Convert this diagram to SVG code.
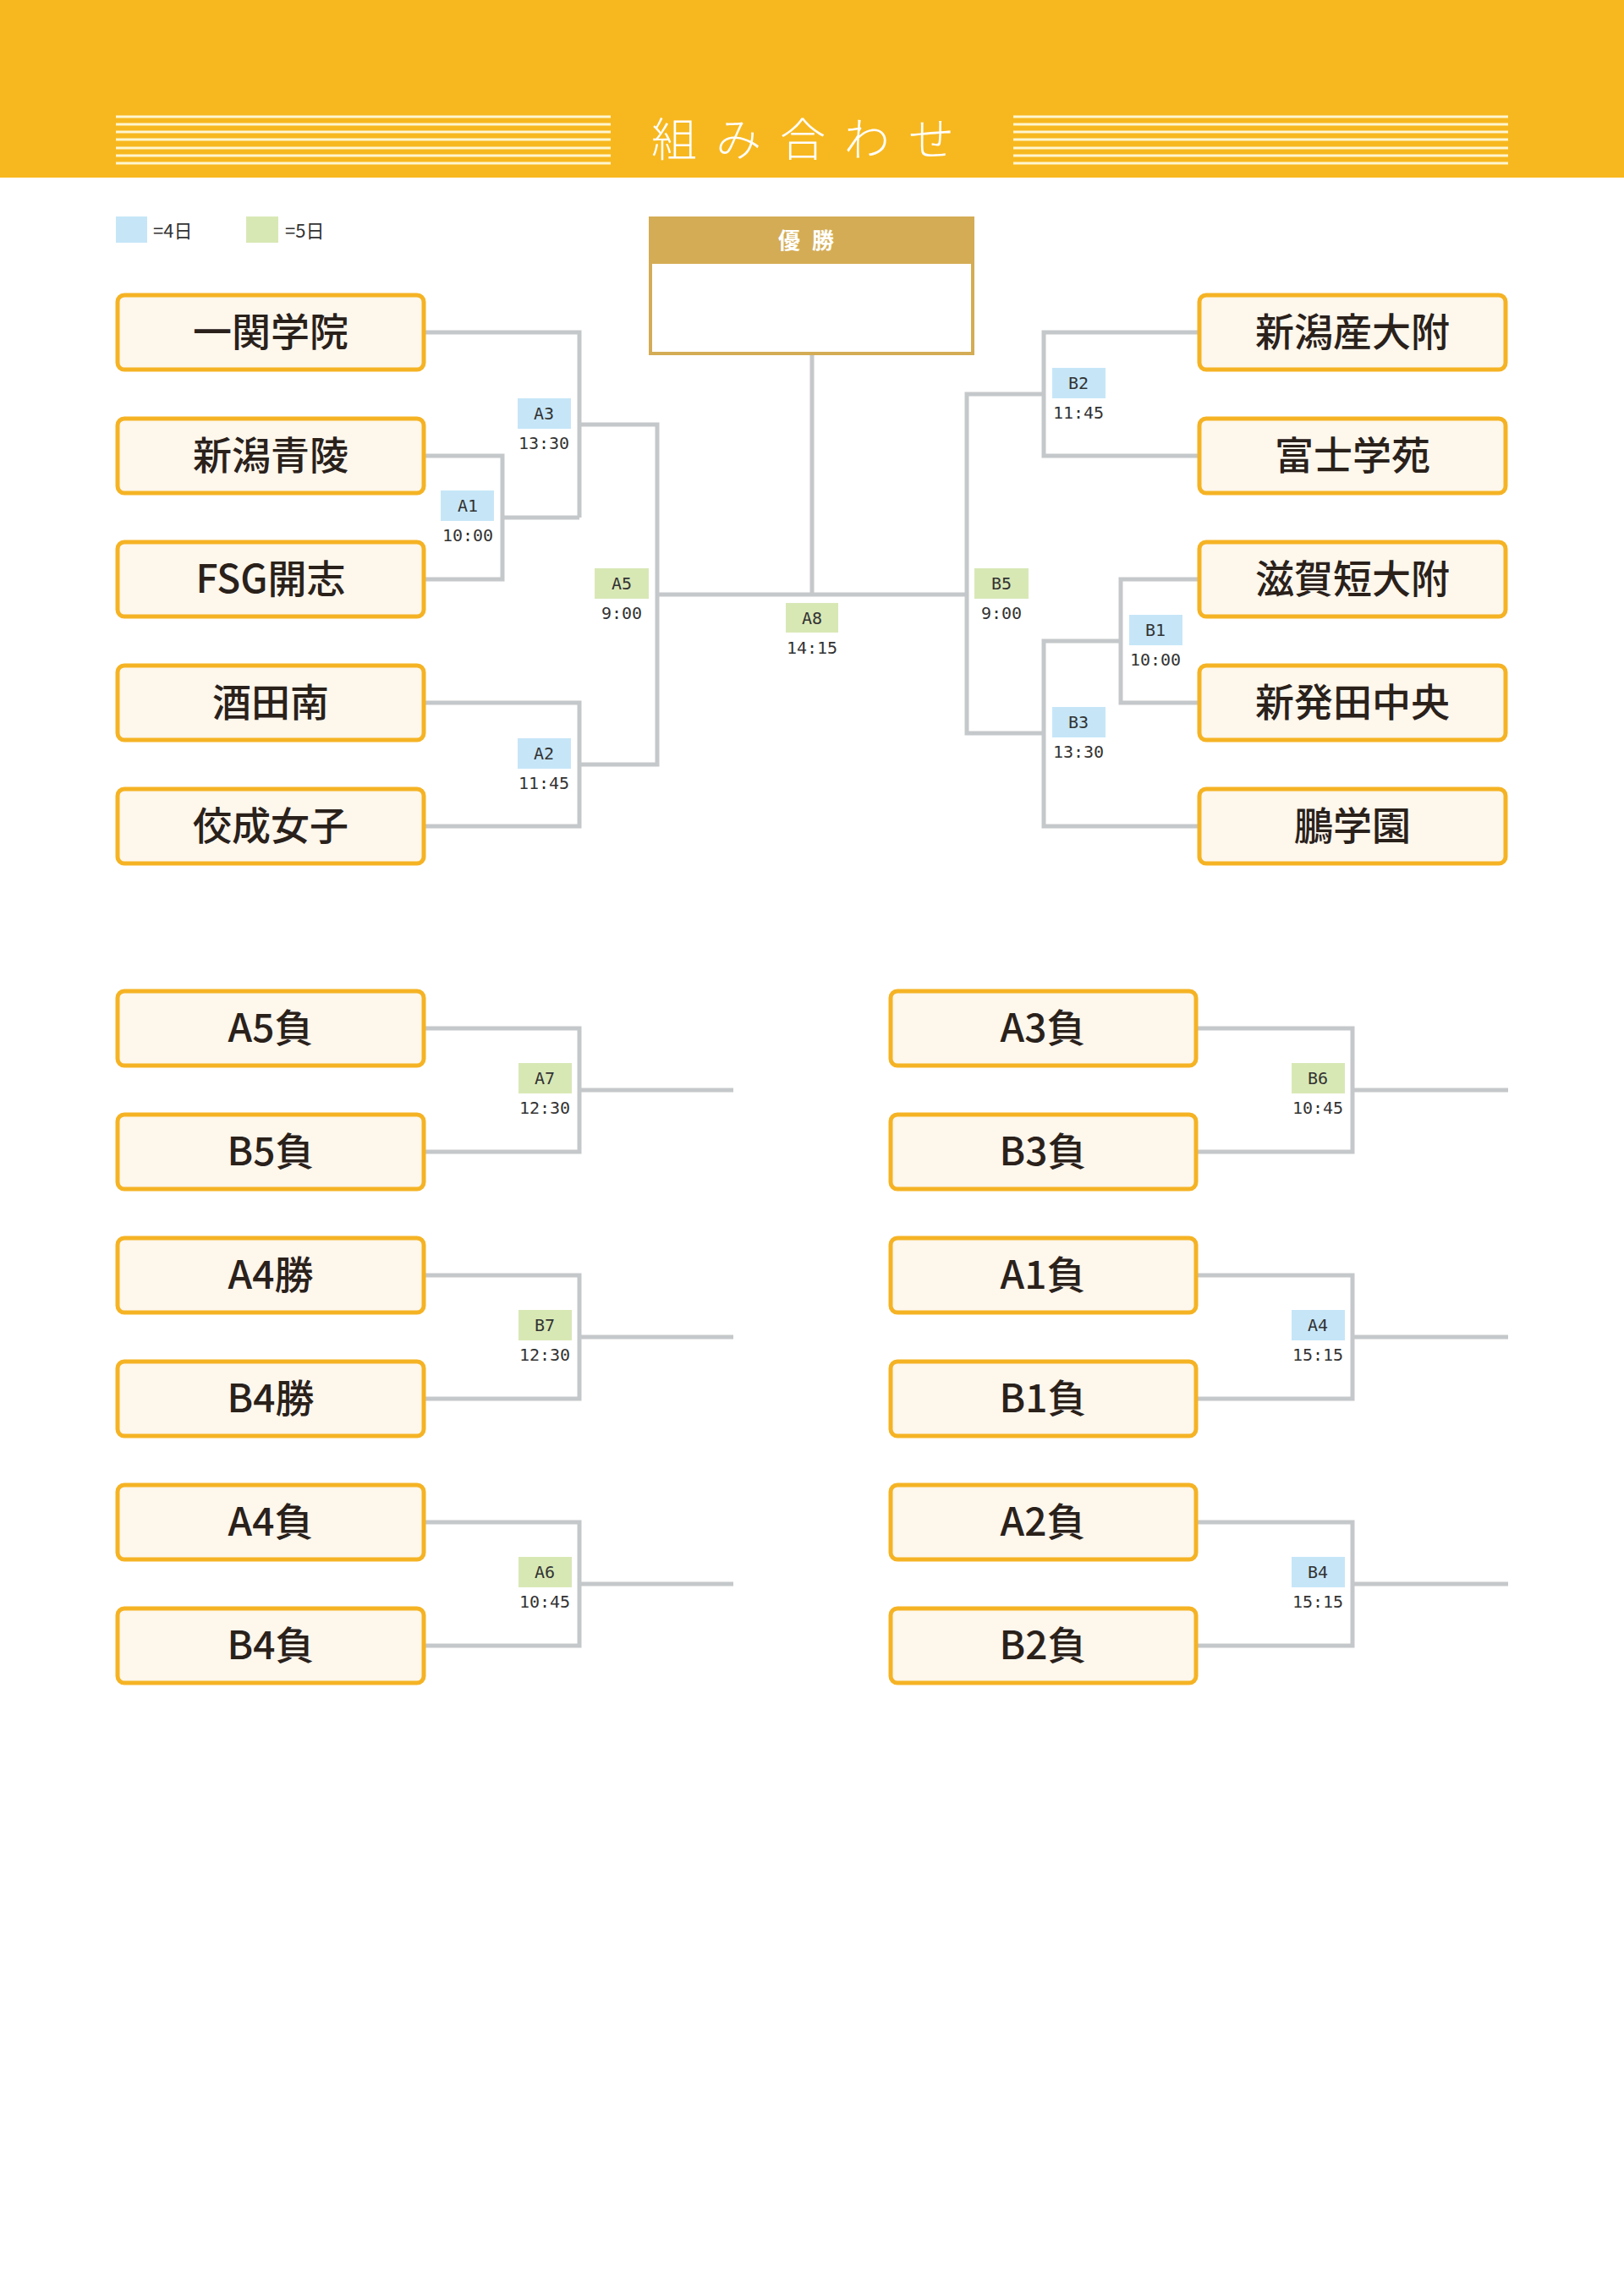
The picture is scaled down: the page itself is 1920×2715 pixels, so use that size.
<svg xmlns="http://www.w3.org/2000/svg" width="1920" height="2715" viewBox="0 0 1920 2715">
<style>
.team{fill:#FDF7EC;stroke:#F5B324;stroke-width:5}
.tt{font-family:"Noto Sans CJK JP","Noto Sans",sans-serif;font-size:46px;font-weight:500;fill:#2a211b;text-anchor:middle}
.ln{fill:none;stroke:#C5C8CA;stroke-width:5}
.bl{fill:#C6E6F8}.gr{fill:#D8E8B5}
.lb{font-family:"DejaVu Sans Mono","Liberation Mono",monospace;font-size:20px;fill:#333;text-anchor:middle}
.tm{font-family:"DejaVu Sans Mono","Liberation Mono",monospace;font-size:20px;fill:#333;text-anchor:middle}
.hl{stroke:#FFF6D0;stroke-width:3}
</style>
<rect width="1920" height="2715" fill="#fff"/>
<rect width="1920" height="210" fill="#F7B81F"/>
<g id="title">
<g class="hl">
<line x1="137" y1="138" x2="722" y2="138"/><line x1="137" y1="147" x2="722" y2="147"/><line x1="137" y1="156" x2="722" y2="156"/><line x1="137" y1="165" x2="722" y2="165"/><line x1="137" y1="175" x2="722" y2="175"/><line x1="137" y1="184" x2="722" y2="184"/><line x1="137" y1="193" x2="722" y2="193"/>
<line x1="1198" y1="138" x2="1783" y2="138"/><line x1="1198" y1="147" x2="1783" y2="147"/><line x1="1198" y1="156" x2="1783" y2="156"/><line x1="1198" y1="165" x2="1783" y2="165"/><line x1="1198" y1="175" x2="1783" y2="175"/><line x1="1198" y1="184" x2="1783" y2="184"/><line x1="1198" y1="193" x2="1783" y2="193"/>
</g>
<text x="960" y="185" font-family="Noto Sans CJK JP,sans-serif" font-size="54" font-weight="300" fill="#fff" text-anchor="middle" letter-spacing="22">組み合わせ</text>
</g>
<g id="legend">
<rect x="137" y="256" width="37" height="31" class="bl"/>
<text x="181" y="281" font-family="Noto Sans CJK JP,sans-serif" font-size="22" fill="#333">=4日</text>
<rect x="291" y="256" width="38" height="31" class="gr"/>
<text x="337" y="281" font-family="Noto Sans CJK JP,sans-serif" font-size="22" fill="#333">=5日</text>
</g>
<g id="champion">
<rect x="769" y="258" width="381" height="160" fill="#fff" stroke="#D4AC55" stroke-width="4"/>
<rect x="767" y="256" width="385" height="56" fill="#D4AC55"/>
<text x="960" y="294" font-family="Noto Sans CJK JP,sans-serif" font-size="26" font-weight="700" fill="#fff" text-anchor="middle" letter-spacing="14">優勝</text>
</g>
<g id="connectors">
<path class="ln" d="M501 393H685V612M501 539H594V685H501M594 612H685M501 831H685V977H501M685 904H777V502H685M777 703H1143"/>
<path class="ln" d="M960 420V703"/>
<path class="ln" d="M1418 393H1234V539H1418M1234 466H1143V867H1234M1418 685H1325V831H1418M1325 758H1234V977H1418"/>
<path class="ln" d="M501 1216H685V1362H501M685 1289H867M501 1508H685V1654H501M685 1581H867M501 1800H685V1946H501M685 1873H867"/>
<path class="ln" d="M1414 1216H1599V1362H1414M1599 1289H1783M1414 1508H1599V1654H1414M1599 1581H1783M1414 1800H1599V1946H1414M1599 1873H1783"/>
</g>
<g id="labels">
<rect x="521" y="580" width="63" height="36" class="bl"/><text x="553" y="605" class="lb">A1</text><text x="553" y="640" class="tm">10:00</text>
<rect x="612" y="471" width="63" height="36" class="bl"/><text x="643" y="496" class="lb">A3</text><text x="643" y="531" class="tm">13:30</text>
<rect x="612" y="873" width="63" height="36" class="bl"/><text x="643" y="898" class="lb">A2</text><text x="643" y="933" class="tm">11:45</text>
<rect x="703" y="672" width="64" height="36" class="gr"/><text x="735" y="697" class="lb">A5</text><text x="735" y="732" class="tm">9:00</text>
<rect x="929" y="713" width="62" height="35" class="gr"/><text x="960" y="738" class="lb">A8</text><text x="960" y="773" class="tm">14:15</text>
<rect x="1244" y="435" width="63" height="36" class="bl"/><text x="1275" y="460" class="lb">B2</text><text x="1275" y="495" class="tm">11:45</text>
<rect x="1152" y="672" width="64" height="36" class="gr"/><text x="1184" y="697" class="lb">B5</text><text x="1184" y="732" class="tm">9:00</text>
<rect x="1335" y="727" width="63" height="36" class="bl"/><text x="1366" y="752" class="lb">B1</text><text x="1366" y="787" class="tm">10:00</text>
<rect x="1244" y="836" width="63" height="36" class="bl"/><text x="1275" y="861" class="lb">B3</text><text x="1275" y="896" class="tm">13:30</text>
<rect x="613" y="1257" width="63" height="36" class="gr"/><text x="644" y="1282" class="lb">A7</text><text x="644" y="1317" class="tm">12:30</text>
<rect x="613" y="1549" width="63" height="36" class="gr"/><text x="644" y="1574" class="lb">B7</text><text x="644" y="1609" class="tm">12:30</text>
<rect x="613" y="1841" width="63" height="36" class="gr"/><text x="644" y="1866" class="lb">A6</text><text x="644" y="1901" class="tm">10:45</text>
<rect x="1527" y="1257" width="63" height="36" class="gr"/><text x="1558" y="1282" class="lb">B6</text><text x="1558" y="1317" class="tm">10:45</text>
<rect x="1527" y="1549" width="63" height="36" class="bl"/><text x="1558" y="1574" class="lb">A4</text><text x="1558" y="1609" class="tm">15:15</text>
<rect x="1527" y="1841" width="63" height="36" class="bl"/><text x="1558" y="1866" class="lb">B4</text><text x="1558" y="1901" class="tm">15:15</text>
</g>
<g id="t1"><rect class="team" x="139" y="349" width="362" height="88" rx="8"/><text class="tt" x="320" y="409">一関学院</text></g>
<g id="t2"><rect class="team" x="139" y="495" width="362" height="88" rx="8"/><text class="tt" x="320" y="555">新潟青陵</text></g>
<g id="t3"><rect class="team" x="139" y="641" width="362" height="88" rx="8"/><text class="tt" x="320" y="701">FSG開志</text></g>
<g id="t4"><rect class="team" x="139" y="787" width="362" height="88" rx="8"/><text class="tt" x="320" y="847">酒田南</text></g>
<g id="t5"><rect class="team" x="139" y="933" width="362" height="88" rx="8"/><text class="tt" x="320" y="993">佼成女子</text></g>
<g id="t6"><rect class="team" x="1418" y="349" width="362" height="88" rx="8"/><text class="tt" x="1599" y="409">新潟産大附</text></g>
<g id="t7"><rect class="team" x="1418" y="495" width="362" height="88" rx="8"/><text class="tt" x="1599" y="555">富士学苑</text></g>
<g id="t8"><rect class="team" x="1418" y="641" width="362" height="88" rx="8"/><text class="tt" x="1599" y="701">滋賀短大附</text></g>
<g id="t9"><rect class="team" x="1418" y="787" width="362" height="88" rx="8"/><text class="tt" x="1599" y="847">新発田中央</text></g>
<g id="t10"><rect class="team" x="1418" y="933" width="362" height="88" rx="8"/><text class="tt" x="1599" y="993">鵬学園</text></g>
<g id="c1"><rect class="team" x="139" y="1172" width="362" height="88" rx="8"/><text class="tt" x="320" y="1232">A5負</text></g>
<g id="c2"><rect class="team" x="139" y="1318" width="362" height="88" rx="8"/><text class="tt" x="320" y="1378">B5負</text></g>
<g id="c3"><rect class="team" x="139" y="1464" width="362" height="88" rx="8"/><text class="tt" x="320" y="1524">A4勝</text></g>
<g id="c4"><rect class="team" x="139" y="1610" width="362" height="88" rx="8"/><text class="tt" x="320" y="1670">B4勝</text></g>
<g id="c5"><rect class="team" x="139" y="1756" width="362" height="88" rx="8"/><text class="tt" x="320" y="1816">A4負</text></g>
<g id="c6"><rect class="team" x="139" y="1902" width="362" height="88" rx="8"/><text class="tt" x="320" y="1962">B4負</text></g>
<g id="d1"><rect class="team" x="1053" y="1172" width="361" height="88" rx="8"/><text class="tt" x="1233" y="1232">A3負</text></g>
<g id="d2"><rect class="team" x="1053" y="1318" width="361" height="88" rx="8"/><text class="tt" x="1233" y="1378">B3負</text></g>
<g id="d3"><rect class="team" x="1053" y="1464" width="361" height="88" rx="8"/><text class="tt" x="1233" y="1524">A1負</text></g>
<g id="d4"><rect class="team" x="1053" y="1610" width="361" height="88" rx="8"/><text class="tt" x="1233" y="1670">B1負</text></g>
<g id="d5"><rect class="team" x="1053" y="1756" width="361" height="88" rx="8"/><text class="tt" x="1233" y="1816">A2負</text></g>
<g id="d6"><rect class="team" x="1053" y="1902" width="361" height="88" rx="8"/><text class="tt" x="1233" y="1962">B2負</text></g>
</svg>
